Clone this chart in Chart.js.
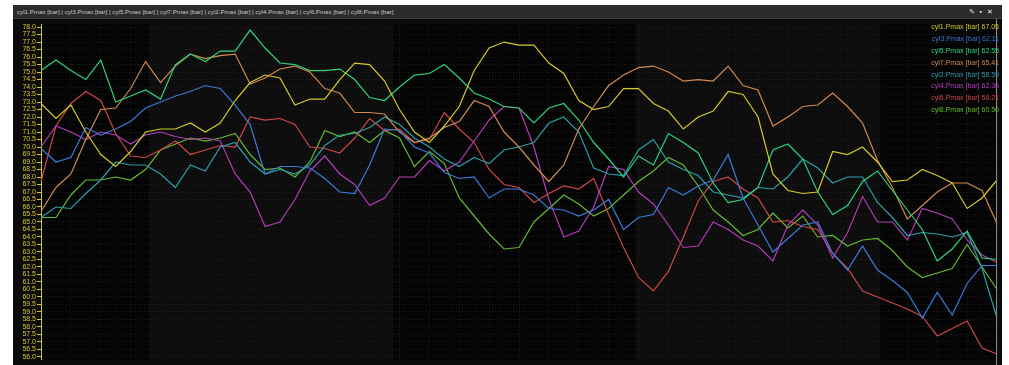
<!DOCTYPE html>
<html>
<head>
<meta charset="utf-8">
<script src="https://cdn.jsdelivr.net/npm/chart.js@4.4.0/dist/chart.umd.min.js"></script>
<style>
  html, body { margin: 0; padding: 0; background: #fff; width: 1009px; height: 365px; overflow: hidden; }
  #panel { position: absolute; left: 13px; top: 5px; width: 989px; height: 360px; background: #0b0b0b; }
  #head { position: absolute; left: 0; top: 0; width: 989px; height: 13px; background: #2b2b2b;
          color: #c8c8c8; font: 6.2px 'Liberation Sans', Arial, sans-serif; line-height: 13px; white-space: nowrap; }
  #head .t { position: absolute; left: 4px; top: 0; }
  #head .ic { position: absolute; right: 4px; top: 0; color: #e8e8e8; font-size: 7px; letter-spacing: 5px; }
  #wrap { position: absolute; left: 0; top: 13px; width: 989px; height: 347px;
          border-top: 1px solid #4a3d30; box-sizing: border-box; }
</style>
</head>
<body>
<div id="panel">
  <div id="head">
    <span class="t">cyl1.Pmax [bar] | cyl3.Pmax [bar] | cyl5.Pmax [bar] | cyl7.Pmax [bar] | cyl2.Pmax [bar] | cyl4.Pmax [bar] | cyl6.Pmax [bar] | cyl8.Pmax [bar]</span>
    <span class="ic">✎▪✕</span>
  </div>
  <div id="wrap"><canvas id="c"></canvas></div>
</div>
<script>
// series, in legend order
const names = ['cyl1.Pmax', 'cyl3.Pmax', 'cyl5.Pmax', 'cyl7.Pmax', 'cyl2.Pmax', 'cyl4.Pmax', 'cyl6.Pmax', 'cyl8.Pmax'];
const colors = ['#d3ca2a', '#3a7ad8', '#2fd27c', '#d08a4e', '#2a9fa8', '#b43cba', '#cf4646', '#62ba2e'];
const lastValues = [67.05, 62.11, 62.55, 65.41, 58.59, 62.36, 56.21, 60.50];

const cyl1 = [72.9, 71.9, 72.8, 71.0, 69.5, 68.7, 69.7, 71.0, 71.2, 71.2, 71.6, 71.0, 71.6, 73.1, 74.3, 74.8, 74.6, 72.8, 73.2, 73.2, 74.5, 75.6, 75.5, 74.4, 72.5, 71.0, 70.3, 71.4, 72.7, 75.1, 76.6, 77.0, 76.8, 76.8, 75.6, 74.9, 73.1, 72.5, 72.7, 73.9, 73.9, 72.9, 72.4, 71.2, 72.0, 72.4, 73.7, 73.5, 72.0, 68.2, 67.1, 66.9, 67.0, 69.7, 69.5, 70.0, 69.0, 67.7, 67.8, 68.5, 68.1, 67.6, 65.9, 66.6, 67.8];
const cyl3 = [69.9, 69.0, 69.3, 71.3, 70.8, 71.2, 71.7, 72.6, 73.0, 73.4, 73.7, 74.1, 73.9, 72.8, 71.5, 68.2, 68.7, 68.7, 68.6, 67.9, 67.0, 66.9, 68.8, 71.2, 71.1, 70.0, 69.6, 68.3, 67.9, 68.0, 66.6, 67.2, 67.2, 66.8, 65.9, 65.8, 65.4, 65.8, 66.5, 64.5, 65.3, 65.5, 67.3, 66.8, 67.4, 67.8, 69.5, 66.6, 64.8, 63.0, 63.9, 64.8, 65.0, 62.9, 61.8, 63.4, 61.8, 61.1, 60.3, 58.6, 60.3, 58.8, 60.9, 62.1, 62.1];
const cyl5 = [75.1, 75.8, 75.1, 74.5, 75.8, 73.0, 73.4, 73.8, 73.2, 75.5, 76.2, 75.7, 76.4, 76.4, 77.8, 76.6, 75.6, 75.5, 75.1, 75.1, 75.2, 74.5, 73.3, 73.1, 74.0, 74.8, 74.9, 75.5, 74.6, 73.6, 73.2, 72.7, 72.6, 71.6, 72.6, 72.9, 71.8, 70.3, 69.2, 68.0, 69.4, 68.8, 70.9, 70.3, 69.6, 67.6, 66.3, 66.5, 67.3, 69.8, 70.2, 69.2, 67.0, 65.5, 66.1, 67.7, 68.4, 67.1, 65.8, 64.5, 62.4, 63.2, 64.4, 62.6, 62.5];
const cyl7 = [65.7, 67.3, 68.2, 70.5, 72.5, 72.6, 73.9, 75.7, 74.3, 75.4, 76.2, 75.9, 76.1, 76.2, 74.2, 74.6, 75.2, 75.4, 75.0, 73.9, 73.6, 72.3, 72.3, 72.2, 71.0, 70.3, 70.6, 71.3, 71.7, 73.1, 72.7, 71.0, 70.0, 68.8, 67.7, 68.8, 71.2, 72.7, 74.1, 74.8, 75.3, 75.4, 75.0, 74.4, 74.5, 74.4, 75.4, 74.1, 73.8, 71.4, 72.0, 72.7, 72.8, 73.6, 72.7, 71.6, 69.1, 67.3, 65.2, 66.1, 67.0, 67.6, 67.6, 67.1, 64.9];
const cyl2 = [65.3, 66.0, 65.9, 66.9, 67.8, 69.0, 68.8, 68.8, 68.2, 67.3, 68.8, 68.4, 70.0, 70.3, 69.0, 68.2, 68.5, 68.2, 68.8, 70.1, 70.8, 70.9, 71.3, 72.0, 71.5, 70.6, 70.0, 69.2, 68.7, 69.3, 68.9, 69.8, 70.0, 70.3, 71.6, 72.0, 71.0, 68.6, 68.2, 68.1, 69.8, 70.5, 69.0, 68.5, 68.1, 67.0, 66.8, 66.6, 67.3, 67.2, 68.0, 69.2, 68.6, 67.6, 68.0, 68.0, 66.3, 65.3, 64.1, 64.3, 64.2, 64.0, 64.3, 61.9, 58.6];
const cyl4 = [70.0, 71.4, 71.0, 70.5, 71.0, 70.8, 70.2, 70.8, 71.0, 70.7, 70.5, 70.6, 70.4, 68.2, 67.0, 64.7, 65.0, 66.5, 68.4, 69.4, 68.2, 67.5, 66.1, 66.6, 68.0, 68.0, 69.1, 68.4, 69.0, 70.4, 71.8, 72.7, 72.6, 70.0, 66.5, 64.0, 64.4, 66.0, 68.7, 68.5, 67.0, 66.2, 64.8, 63.3, 63.4, 65.0, 64.5, 63.8, 63.4, 62.4, 64.8, 65.8, 64.8, 62.6, 64.3, 66.7, 65.0, 65.0, 63.8, 65.9, 65.6, 65.2, 63.8, 62.8, 62.3];
const cyl6 = [67.7, 71.4, 72.9, 73.7, 73.1, 70.9, 69.4, 69.3, 69.8, 70.4, 69.5, 69.8, 70.1, 70.0, 72.0, 71.8, 71.9, 71.5, 70.0, 69.9, 69.6, 70.6, 71.9, 71.1, 71.2, 70.3, 70.5, 72.3, 71.2, 70.3, 68.5, 67.5, 67.3, 66.3, 66.9, 67.4, 67.2, 67.9, 65.5, 63.3, 61.3, 60.4, 61.7, 64.0, 66.4, 67.7, 68.0, 67.2, 66.6, 65.0, 65.1, 64.7, 64.5, 62.9, 61.9, 60.4, 60.0, 59.6, 59.2, 58.7, 57.4, 57.9, 58.4, 56.6, 56.2];
const cyl8 = [65.3, 65.3, 66.8, 67.8, 67.8, 68.0, 67.8, 68.5, 69.8, 70.2, 70.6, 70.4, 70.6, 70.9, 69.5, 68.5, 68.6, 68.0, 69.0, 71.1, 70.7, 71.0, 70.3, 71.1, 70.6, 68.7, 69.7, 68.9, 66.6, 65.4, 64.2, 63.2, 63.3, 65.0, 65.9, 66.8, 66.2, 65.4, 65.9, 66.8, 67.7, 68.4, 69.3, 68.8, 67.4, 65.8, 65.0, 64.1, 64.5, 65.6, 64.6, 65.4, 64.0, 64.1, 63.4, 63.8, 63.9, 63.1, 62.0, 61.3, 61.6, 61.9, 63.5, 62.0, 60.5];

const seriesValues = [cyl1, cyl3, cyl5, cyl7, cyl2, cyl4, cyl6, cyl8];
const sampleIndex = cyl1.map((_, i) => i);

// y tick labels, 0.5 bar apart
const yTicks = [56.0, 56.5, 57.0, 57.5, 58.0, 58.5, 59.0, 59.5, 60.0, 60.5, 61.0, 61.5, 62.0, 62.5, 63.0, 63.5,
                64.0, 64.5, 65.0, 65.5, 66.0, 66.5, 67.0, 67.5, 68.0, 68.5, 69.0, 69.5, 70.0, 70.5, 71.0, 71.5,
                72.0, 72.5, 73.0, 73.5, 74.0, 74.5, 75.0, 75.5, 76.0, 76.5, 77.0, 77.5, 78.0];

// darker shaded stretches of the time axis (sample index from / to)
const darkBands = [[0, 7.2], [23.6, 39.8], [56.2, 64]];

const YELLOW = '#d6c62a';

const backdrop = {
    id: 'backdrop',
    beforeDraw(chart) {
        const {ctx, chartArea: a, scales: {x}} = chart;
        ctx.save();
        ctx.fillStyle = '#0b0b0b';
        ctx.fillRect(0, 0, chart.width, chart.height);
        ctx.fillStyle = '#0d0d0d';
        ctx.fillRect(a.left, a.top, a.right - a.left, a.bottom - a.top);
        ctx.fillStyle = '#040404';
        darkBands.forEach(b => {
            const x1 = x.getPixelForValue(b[0]);
            const x2 = x.getPixelForValue(b[1]);
            ctx.fillRect(x1, a.top, x2 - x1, a.bottom - a.top);
        });
        ctx.restore();
    },
    afterDatasetsDraw(chart) {
        const {ctx, chartArea: a} = chart;
        ctx.save();
        // cursor line on the right edge
        ctx.strokeStyle = '#8a8a8a';
        ctx.lineWidth = 1;
        ctx.beginPath();
        ctx.moveTo(a.right - 0.5, 0);
        ctx.lineTo(a.right - 0.5, chart.height);
        ctx.stroke();
        // value legend, top right
        ctx.font = '7px "Liberation Sans", Arial, sans-serif';
        ctx.textAlign = 'right';
        ctx.textBaseline = 'middle';
        names.forEach((n, i) => {
            ctx.fillStyle = colors[i];
            ctx.fillText(n + ' [bar] ' + lastValues[i].toFixed(2), a.right + 2, 8 + i * 11.9);
        });
        ctx.restore();
    }
};

new Chart(document.getElementById('c'), {
    type: 'line',
    data: {
        labels: sampleIndex,
        datasets: seriesValues.map((v, i) => ({
            label: names[i],
            data: v,
            borderColor: colors[i],
            borderWidth: 1.2,
            pointRadius: 0,
            tension: 0,
            fill: false
        }))
    },
    options: {
        responsive: true,
        maintainAspectRatio: false,
        animation: false,
        events: [],
        layout: { padding: { top: 1, right: 5, bottom: 0, left: 0 } },
        plugins: { legend: { display: false }, tooltip: { enabled: false } },
        scales: {
            x: {
                type: 'category',
                offset: false,
                ticks: { display: false },
                grid: {
                    color: c => (c.index % 2 === 0 ? '#1b1b1b' : 'transparent'),
                    lineWidth: 1,
                    drawTicks: false
                },
                border: { display: false, dash: [1, 2] },
                afterFit: s => { s.height = 0; }
            },
            y: {
                min: 55.81,
                max: 78.19,
                afterBuildTicks: s => { s.ticks = yTicks.map(v => ({ value: v })); },
                afterFit: s => { s.width = 28; },
                ticks: {
                    autoSkip: false,
                    color: YELLOW,
                    padding: 1,
                    font: { family: 'Liberation Sans', size: 7 },
                    callback: v => Number(v).toFixed(1)
                },
                grid: {
                    color: '#1d1d1d',
                    tickColor: YELLOW,
                    tickLength: 4,
                    tickBorderDash: []
                },
                border: { display: true, color: YELLOW, width: 1, dash: [1, 2] }
            }
        }
    },
    plugins: [backdrop]
});
</script>
</body>
</html>
